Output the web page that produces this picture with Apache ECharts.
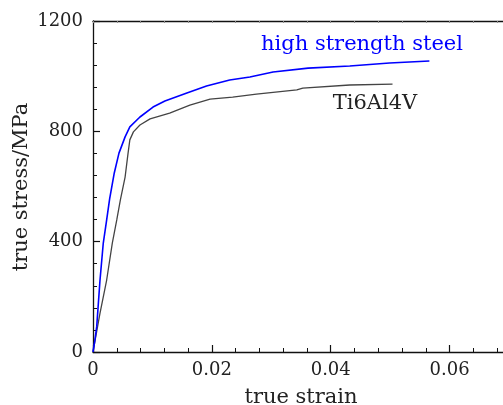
<!DOCTYPE html>
<html>
<head>
<meta charset="utf-8">
<script src="https://cdn.jsdelivr.net/npm/echarts@6/dist/echarts.min.js"></script>
<style>html,body{margin:0;padding:0;background:#fff;overflow:hidden}#c{width:503px;height:405px}</style>
</head>
<body>
<div id="c"></div>
<script>
const steelStrain = [0, 0.0003, 0.00062, 0.00118, 0.00173, 0.0023, 0.0028, 0.00358, 0.00437, 0.0054, 0.0062, 0.0079, 0.0101, 0.0121, 0.0158, 0.0191, 0.0230, 0.0264, 0.0303, 0.0362, 0.0432, 0.0499, 0.0566];
const steelStress = [0, 40, 91, 261, 395, 479, 555, 649, 721, 780, 816, 852, 888, 910, 939, 964, 986, 997, 1015, 1029, 1037, 1048, 1055];
const tiStrain = [0, 0.00118, 0.0023, 0.00325, 0.004, 0.0046, 0.0054, 0.0059, 0.0062, 0.0068, 0.0079, 0.0096, 0.0129, 0.0163, 0.0197, 0.0235, 0.0275, 0.0343, 0.0353, 0.0432, 0.0504];
const tiStress = [0, 141, 261, 395, 479, 551, 634, 721, 769, 798, 823, 845, 866, 895, 917, 924, 935, 950, 957, 968, 971];
const seriesNames = ['high strength steel', 'Ti6Al4V'];
const xTitle = 'true strain';
const yTitle = 'true stress/MPa';

const font = 'DejaVu Serif';
const steelData = steelStrain.map((x, i) => [x, steelStress[i]]);
const tiData = tiStrain.map((x, i) => [x, tiStress[i]]);
const chart = echarts.init(document.getElementById('c'), null, {width: 503, height: 405});
const axisCommon = {
  axisLine: {show: true, lineStyle: {color: '#111', width: 1.3}},
  axisTick: {show: true, inside: true, length: 7, lineStyle: {color: '#111', width: 1.2}},
  minorTick: {show: true, splitNumber: 5, length: 4, lineStyle: {color: '#111', width: 1}},
  splitLine: {show: false}
};
chart.setOption({
  animation: false,
  grid: {left: 93, top: 21, height: 331, width: 416, containLabel: false, outerBoundsMode: 'none'},
  xAxis: [
    Object.assign({}, axisCommon, {type: 'value', min: 0, max: 0.07, interval: 0.02, position: 'bottom',
      name: xTitle, nameLocation: 'middle', nameGap: 35,
      nameTextStyle: {fontFamily: font, fontSize: 21, color: '#222'},
      axisLabel: {fontFamily: font, fontSize: 18, color: '#222', margin: 9, showMaxLabel: false}}),
    Object.assign({}, axisCommon, {type: 'value', min: 0, max: 0.07, interval: 0.02, position: 'top',
      axisTick: {show: true, inside: true, length: 2, lineStyle: {color: '#888', width: 1}},
      minorTick: {show: true, splitNumber: 5, length: 2, lineStyle: {color: '#888', width: 1}},
      axisLabel: {show: false}})
  ],
  yAxis: Object.assign({}, axisCommon, {type: 'value', min: 0, max: 1200, interval: 400,
    axisLabel: {fontFamily: font, fontSize: 18, color: '#222', margin: 10, formatter: v => String(v)}}),
  series: [
    {name: seriesNames[0], type: 'line', data: steelData, showSymbol: false, smooth: false,
      lineStyle: {color: '#0000ff', width: 1.6}, z: 3},
    {name: seriesNames[1], type: 'line', data: tiData, showSymbol: false, smooth: false,
      lineStyle: {color: '#444', width: 1.3}, z: 2}
  ],
  graphic: [
    {type: 'text', x: 362, y: 45, style: {text: seriesNames[0], fontFamily: font, fontSize: 21, fill: '#0000ff', align: 'center', verticalAlign: 'middle'}},
    {type: 'text', x: 375, y: 104, style: {text: seriesNames[1], fontFamily: font, fontSize: 21, fill: '#222', align: 'center', verticalAlign: 'middle'}},
    {type: 'text', x: 22, y: 187, rotation: Math.PI / 2, style: {text: yTitle, fontFamily: font, fontSize: 21, fill: '#222', align: 'center', verticalAlign: 'middle'}}
  ]
});
</script>
</body>
</html>
